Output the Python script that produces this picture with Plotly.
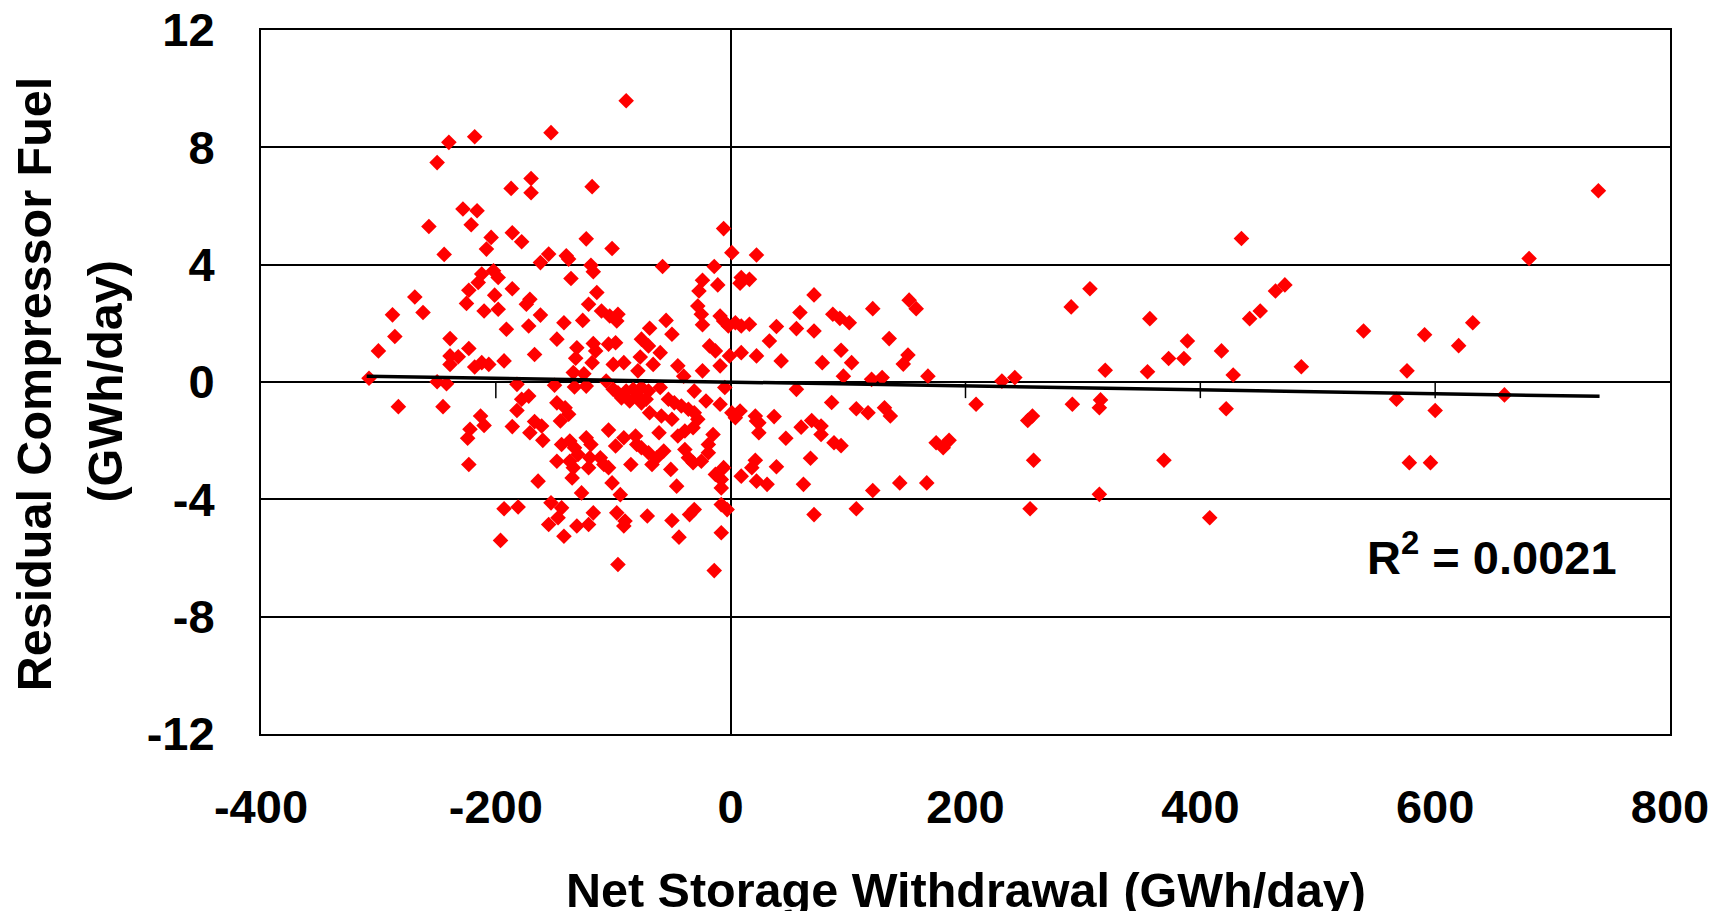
import plotly.graph_objects as go

# Net storage withdrawal (GWh/day) and residual compressor fuel (GWh/day)
x_vals = [
    -240, -218, -250, -153, -170, -187, -170, -228, -216, -257, -221, -186, -178, -204, -208, -244,
    -162, -155, -212, -202, -198, -215, -223, -186, -201, -269, -225, -171, -174, -198, -210, -288,
    -262, -162, -191, -172,
    -89, -118, -6, -123, -101, -140, -138, 1, 22, -119, -117, -58, -14, -24, -11, 9, 16, 8, -136,
    -27, -114, -121, -28, -25, -110, -103, -96, -97, -142, -126, -55, -9, -6, -2, 4, 9, 16, -69,
    -308, -286, -300, -239, -223, -239, -232, -239, -218, -212, -206, -193, -167, -250, -242, -283,
    -245, -182, -178, -172, -182, -213, -210, -222, -224, -186, -167, -161, -171, -160, -223, -164,
    -193, -181, -196, -155, -153,
    -148, -131, -132, -117, -115, -118, -104, -98, -100, -91, -76, -70, -77, -79, -60, -66, -50, -45,
    -24, -18, -13, -1, 9, 22, -24, -9, -40, -134, -125, -150, -133, -123, -106, -100, -96, -89, -83,
    -76, -70, -60, -93, -86, -79, -76, -72, -69, -59, -50, -53, -48, -42, -36, -31, -28, -32, -39,
    -45, -31, -21, -9, -5, 1, 8, 4, 21, 22, -148, -141, -138, -145, -104, -61, -91, -81, -80, -76,
    -70, -144, -137, -133, -130, -123, -119, -98, -57, -63, -39, -36, -32, -25, -19, -19, -15, -148,
    -137, -134, -135, -120, -121, -111, -108, -104, -85, -67, -51, -101, -46, -13, -6, -8, -8, 9, 18,
    22, -127, -94, -144, -147, -117, -131, -121, -142, -97, -90, -91, -71, -50, -44, -35, -31, -8, -3,
    -8, -96, -14,
    71, 59, 87, 93, 101, 121, 152, 158, 290, 39, 56, 71, 33, 135, 43, 78, 94, 103, 151, 147, 96, 120,
    129, 168, 231, 242, 56, 86, 107, 117, 131, 136, 209, 291, 24, 24, 37, 60, 69, 77, 77, 47, 88, 94,
    175, 181, 186, 253, 257, 21, 39, 68, 31, 62, 121, 144, 167, 258, 71, 107, 255,
    435, 306, 464, 472, 357, 442, 451, 539, 389, 373, 386, 418, 319, 355, 428, 486, 315, 314, 422,
    567, 369, 314, 408,
    739, 680, 632, 591, 620, 576, 659, 600, 578, 596,
]
y_vals = [
    8.17, 8.36, 7.48, 8.5, 6.94, 6.6, 6.45, 5.9, 5.84, 5.3, 5.36, 5.09, 4.78, 4.93, 4.53, 4.35,
    4.07, 4.36, 3.68, 3.79, 3.56, 3.39, 3.13, 3.18, 2.96, 2.9, 2.68, 2.82, 2.65, 2.48, 2.42, 2.29,
    2.37, 2.28, 1.8, 1.91,
    9.59, 6.66, 5.23, 4.88, 4.55, 4.3, 4.19, 4.41, 4.33, 3.98, 3.76, 3.94, 3.94, 3.47, 3.31, 3.56, 3.5,
    3.37, 3.53, 3.1, 3.05, 2.65, 2.59, 2.31, 2.42, 2.25, 2.31, 2.08, 2.02, 2.1, 2.1, 2.25, 2.08, 1.91,
    2.02, 1.91, 1.97, 1.83,
    0.13, 1.55, 1.06, 1.48, 1.14, 0.89, 0.86, 0.6, 0.51, 0.66, 0.6, 0.72, 0.94, 0.01, -0.06, -0.84,
    -0.84, -0.08, -0.59, -0.48, -0.97, -1.16, -1.48, -1.61, -1.92, -1.52, -1.35, -1.5, -1.73, -1.99,
    -2.81, -3.38, -4.32, -4.26, -5.4, -4.86, -4.12,
    1.46, 1.17, 0.81, 1.31, 1.06, 0.66, 1.29, 1.34, 0.6, 0.66, 1.46, 1.23, 0.85, 0.38, 1.0, 0.6, 1.63,
    0.55, 1.95, 1.23, 1.06, 0.89, 1.0, 0.89, 0.38, 0.55, 0.2, 0.32, 0.28, -0.11, -0.17, -0.14, 0.03,
    -0.25, -0.37, -0.31, -0.25, -0.19, -0.31, -0.19, -0.54, -0.65, -0.48, -0.71, -0.59, -1.05, -1.16,
    -1.27, -0.59, -0.71, -0.82, -0.93, -1.05, -1.27, -1.56, -1.67, -1.84, -0.31, -0.65, -0.76, -0.19,
    -1.05, -0.99, -1.22, -1.16, -1.33, -0.71, -0.88, -1.1, -1.33, -1.64, -1.73, -1.9, -1.84, -2.13,
    -2.24, -2.41, -2.13, -2.01, -2.24, -2.47, -1.9, -2.13, -2.18, -2.35, -2.58, -2.3, -2.58, -2.75,
    -2.7, -2.41, -2.13, -1.79, -2.7, -2.7, -2.92, -3.27, -2.58, -2.92, -2.58, -2.81, -2.92, -2.81,
    -2.81, -2.98, -3.44, -3.55, -3.15, -2.92, -3.32, -3.61, -3.21, -2.92, -3.38, -3.78, -3.84, -4.29,
    -4.63, -4.46, -4.91, -4.86, -5.26, -4.46, -4.74, -4.91, -4.57, -4.72, -5.29, -4.52, -4.35, -4.18,
    -4.35, -5.14, -6.22, -6.43,
    2.97, 2.37, 2.31, 2.17, 2.02, 2.5, 2.79, 2.5, 2.56, 1.89, 1.82, 1.74, 1.4, 1.48, 0.72, 0.66, 1.08,
    0.66, 0.92, 0.61, 0.2, 0.09, 0.15, 0.2, 0.03, 0.15, -0.25, -0.7, -0.91, -1.05, -0.88, -1.16, -0.76,
    -0.76, -1.39, -1.73, -1.18, -1.54, -1.31, -1.5, -1.79, -1.92, -2.07, -2.17, -2.07, -2.24, -1.99,
    -1.31, -1.16, -2.67, -2.89, -2.6, -3.49, -3.49, -3.7, -3.44, -3.44, -2.67, -4.52, -4.32, -4.32,
    4.89, 3.18, 3.1, 3.31, 2.16, 2.16, 2.42, 1.74, 1.4, 0.8, 0.8, 1.06, 0.4, 0.35, 0.24, 0.52, -0.61,
    -0.88, -0.91, -0.59, -2.67, -3.83, -4.63,
    6.52, 4.21, 2.02, 1.61, 1.24, 0.38, -0.44, -0.97, -2.75, -2.75,
]

# Linear trend line end points
trend_x = [-310, 740]
trend_y = [0.2, -0.49]
r_squared = "0.0021"

x_ticks = [-400, -200, 0, 200, 400, 600, 800]
y_ticks = [-12, -8, -4, 0, 4, 8, 12]

FONT = "Liberation Sans, Arial, sans-serif"
TXT = dict(size=47, family=FONT, weight="bold", color="black")
TITLE = dict(size=48.5, family=FONT, weight="bold", color="black")

fig = go.Figure()
fig.add_trace(go.Scatter(
    x=x_vals, y=y_vals, mode="markers",
    marker=dict(symbol="diamond", size=12, color="#FF0000", line=dict(width=0)),
    showlegend=False, hoverinfo="x+y",
))
fig.add_trace(go.Scatter(
    x=trend_x, y=trend_y, mode="lines",
    line=dict(color="black", width=3.5), showlegend=False, hoverinfo="skip",
))

# small tick marks on the horizontal axis crossing at y = 0
for t in x_ticks[1:-1]:
    if t == 0:
        continue
    fig.add_shape(type="line", xref="x", yref="y", x0=t, x1=t, y0=0, y1=-0.55,
                  line=dict(color="black", width=1.5), layer="above")

fig.update_layout(
    width=1710, height=903,
    margin=dict(l=253, r=48, t=22, b=177, autoexpand=False),
    paper_bgcolor="white", plot_bgcolor="white",
    font=dict(family=FONT, color="black"),
    xaxis=dict(
        range=[-400, 800], tickvals=x_ticks, ticktext=[str(v) for v in x_ticks],
        showgrid=False, zeroline=True, zerolinecolor="black", zerolinewidth=1.5,
        showline=True, mirror=True, linecolor="black", linewidth=2,
        ticks="", ticklabelstandoff=31, automargin=False, ticklabeloverflow="allow",
        tickfont=TXT,
    ),
    yaxis=dict(
        range=[-12, 12], tickvals=y_ticks, ticktext=[str(v) for v in y_ticks],
        showgrid=True, gridcolor="black", gridwidth=1.5,
        zeroline=True, zerolinecolor="black", zerolinewidth=1.5,
        showline=True, mirror=True, linecolor="black", linewidth=2,
        ticks="", ticklabelstandoff=35, automargin=False, ticklabeloverflow="allow",
        tickfont=TXT,
    ),
    annotations=[
        dict(text="Net Storage Withdrawal (GWh/day)", xref="paper", yref="paper",
             x=0.5, y=-0.221, xanchor="center", yanchor="middle", showarrow=False,
             font=TITLE),
        dict(text="Residual Compressor Fuel", xref="paper", yref="paper",
             x=-0.161, y=0.497, xanchor="center", yanchor="middle", showarrow=False,
             textangle=-90, font=TITLE),
        dict(text="(GWh/day)", xref="paper", yref="paper",
             x=-0.111, y=0.5, xanchor="center", yanchor="middle", showarrow=False,
             textangle=-90, font=TITLE),
        dict(text="R<sup>2</sup> = " + r_squared, xref="paper", yref="paper",
             x=0.964, y=0.255, xanchor="right", yanchor="middle", showarrow=False,
             font=TXT),
    ],
)

fig.write_html("out.html")
